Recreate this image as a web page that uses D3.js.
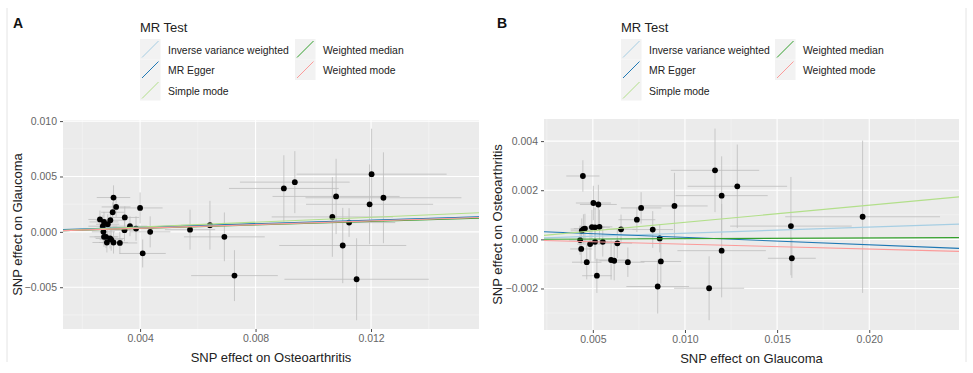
<!DOCTYPE html>
<html>
<head>
<meta charset="utf-8">
<script src="https://cdn.jsdelivr.net/npm/d3@7"></script>
<style>
  body { margin: 0; background: #fff; }
  svg { display: block; font-family: "Liberation Sans", Arial, sans-serif; }
</style>
</head>
<body>
<script>
// MR methods (legend order) and their colours
var methods = ["Inverse variance weighted", "MR Egger", "Simple mode", "Weighted median", "Weighted mode"];
var methodColors = ["#a6cee3", "#1f78b4", "#b2df8a", "#33a02c", "#fb9a99"];

// Panel A: Osteoarthritis -> Glaucoma
var aX   = [0.00308,0.00317,0.00305,0.00400,0.00347,0.00261,0.00275,0.00297,0.00288,0.00271,0.00365,0.00346,0.00386,0.00435,0.00273,0.00275,0.00282,0.00296,0.00300,0.00285,0.00308,0.00330,0.00409,0.00573,0.00642,0.00692,0.00727,0.00898,0.00936,0.01066,0.01079,0.01102,0.01124,0.01150,0.01195,0.01202,0.01243];
var aY   = [0.00310,0.00225,0.00177,0.00216,0.00130,0.00112,0.00090,0.00105,0.00069,0.00051,0.00051,0.00015,0.00030,0.00000,0.00000,-0.00045,-0.00045,-0.00060,-0.00070,-0.00096,-0.00096,-0.00100,-0.00195,0.00020,0.00060,-0.00045,-0.00395,0.00392,0.00449,0.00135,0.00320,-0.00123,0.00084,-0.00428,0.00249,0.00521,0.00308];
var aXse = [0.00058,0.0005,0.0004,0.00078,0.0005,0.0004,0.0005,0.0005,0.0004,0.0005,0.0006,0.0005,0.0006,0.0007,0.0004,0.0005,0.0004,0.0005,0.0004,0.0005,0.0005,0.0006,0.0008,0.00087,0.0010,0.0014,0.0015,0.0019,0.0019,0.0021,0.0022,0.0022,0.0016,0.0025,0.0022,0.0026,0.0027];
var aYse = [0.0011,0.0009,0.0009,0.0014,0.0010,0.0008,0.0009,0.0008,0.0009,0.0010,0.0009,0.0010,0.0011,0.0014,0.0010,0.0009,0.0010,0.0009,0.0010,0.0009,0.0010,0.0010,0.00126,0.0018,0.0022,0.0022,0.0023,0.0030,0.0028,0.0036,0.0034,0.0034,0.0013,0.0037,0.0036,0.0041,0.0041];
var aSlopes = [0.087, 0.080, 0.110, 0.078, 0.082];
var aIntercepts = [0, 0.0001, 0, 0, 0];

// Panel B: Glaucoma -> Osteoarthritis
var bX   = [0.00446,0.00503,0.00530,0.00762,0.00739,0.00943,0.00825,0.00863,0.00869,0.00852,0.01163,0.01199,0.01284,0.01199,0.01131,0.01575,0.01580,0.01964,0.00449,0.00457,0.00440,0.00495,0.00512,0.00536,0.00653,0.00431,0.00512,0.00554,0.00485,0.00633,0.00437,0.00599,0.00616,0.00690,0.00467,0.00522];
var bY   = [0.00258,0.00148,0.00142,0.00128,0.00080,0.00136,0.00040,0.00004,-0.00090,-0.00192,0.00281,0.00178,0.00216,-0.00046,-0.00199,0.00054,-0.00077,0.00092,0.00042,0.00044,0.00035,0.00050,0.00049,0.00051,0.00041,-0.00003,-0.00010,-0.00010,-0.00019,-0.00016,-0.00039,-0.00084,-0.00087,-0.00093,-0.00093,-0.00148];
var bXse = [0.0009,0.00095,0.0010,0.0011,0.0010,0.0018,0.0011,0.0012,0.0011,0.0017,0.0024,0.0025,0.0027,0.0024,0.0019,0.0033,0.0013,0.0042,0.0007,0.0006,0.0006,0.0007,0.0008,0.0007,0.0008,0.0006,0.0007,0.0006,0.0007,0.0008,0.0006,0.0009,0.0008,0.0009,0.0008,0.0008];
var bYse = [0.00064,0.0007,0.0008,0.00064,0.0005,0.00135,0.00075,0.00057,0.0009,0.0011,0.0017,0.0016,0.0017,0.0019,0.0013,0.0020,0.0008,0.0031,0.0006,0.0006,0.0005,0.0007,0.0008,0.0007,0.0006,0.0006,0.0007,0.0006,0.0007,0.0006,0.0006,0.0008,0.0008,0.0006,0.0007,0.0007];
var bSlopes = [0.025, -0.030, 0.0696, 0.0028, -0.0197];
var bIntercepts = [0, 0.00038, 0, 0, 0];

// axis ticks
var aXTicks = [0.004, 0.008, 0.012];
var aYTicks = [-0.005, 0, 0.005, 0.010];
var bXTicks = [0.005, 0.010, 0.015, 0.020];
var bYTicks = [-0.002, 0, 0.002, 0.004];

var svg = d3.select("body").append("svg").attr("width", 973).attr("height", 373);

// faint frame lines of the two source images
svg.append("line").attr("x1", 7).attr("x2", 7).attr("y1", 8).attr("y2", 362).attr("stroke", "#e4e4e4");
svg.append("line").attr("x1", 966).attr("x2", 966).attr("y1", 8).attr("y2", 362).attr("stroke", "#e4e4e4");

function drawPanel(cfg) {
    var g = svg.append("g");
    var x = d3.scaleLinear().domain(cfg.xDomain).range([cfg.left, cfg.right]);
    var y = d3.scaleLinear().domain(cfg.yDomain).range([cfg.bottom, cfg.top]);

    g.append("rect").attr("x", cfg.left).attr("y", cfg.top)
        .attr("width", cfg.right - cfg.left).attr("height", cfg.bottom - cfg.top)
        .attr("fill", "#ebebeb");

    var clipId = "clip" + cfg.label;
    g.append("clipPath").attr("id", clipId).append("rect")
        .attr("x", cfg.left).attr("y", cfg.top)
        .attr("width", cfg.right - cfg.left).attr("height", cfg.bottom - cfg.top);

    // minor grid
    g.selectAll(".minx").data(cfg.xMinor).enter().append("line")
        .attr("x1", d => x(d)).attr("x2", d => x(d)).attr("y1", cfg.top).attr("y2", cfg.bottom)
        .attr("stroke", "#f5f5f5").attr("stroke-width", 0.6);
    g.selectAll(".miny").data(cfg.yMinor).enter().append("line")
        .attr("y1", d => y(d)).attr("y2", d => y(d)).attr("x1", cfg.left).attr("x2", cfg.right)
        .attr("stroke", "#f5f5f5").attr("stroke-width", 0.6);
    // major grid
    g.selectAll(".majx").data(cfg.xTicks).enter().append("line")
        .attr("x1", d => x(d)).attr("x2", d => x(d)).attr("y1", cfg.top).attr("y2", cfg.bottom)
        .attr("stroke", "#fff").attr("stroke-width", 1.1);
    g.selectAll(".majy").data(cfg.yTicks).enter().append("line")
        .attr("y1", d => y(d)).attr("y2", d => y(d)).attr("x1", cfg.left).attr("x2", cfg.right)
        .attr("stroke", "#fff").attr("stroke-width", 1.1);

    // axes
    var xAxis = d3.axisBottom(x).tickValues(cfg.xTicks).tickFormat(d3.format(".3f")).tickSize(3).tickPadding(3);
    var yAxis = d3.axisLeft(y).tickValues(cfg.yTicks).tickFormat(d3.format(".3f")).tickSize(3).tickPadding(3);
    var gx = g.append("g").attr("transform", "translate(0," + cfg.bottom + ")").call(xAxis);
    var gy = g.append("g").attr("transform", "translate(" + cfg.left + ",0)").call(yAxis);
    [gx, gy].forEach(function (a) {
        a.select(".domain").remove();
        a.selectAll("line").attr("stroke", "#4d4d4d");
        a.selectAll("text").attr("fill", "#666").style("font-size", "10.5px")
            .style("font-family", "'Liberation Sans', Arial, sans-serif");
    });

    var plot = g.append("g").attr("clip-path", "url(#" + clipId + ")");

    // error bars
    plot.selectAll(".eh").data(cfg.xs).enter().append("line")
        .attr("x1", (d, i) => x(d - cfg.xse[i])).attr("x2", (d, i) => x(d + cfg.xse[i]))
        .attr("y1", (d, i) => y(cfg.ys[i])).attr("y2", (d, i) => y(cfg.ys[i]))
        .attr("stroke", "#bebebe").attr("stroke-width", 0.8);
    plot.selectAll(".ev").data(cfg.xs).enter().append("line")
        .attr("x1", d => x(d)).attr("x2", d => x(d))
        .attr("y1", (d, i) => y(cfg.ys[i] - cfg.yse[i])).attr("y2", (d, i) => y(cfg.ys[i] + cfg.yse[i]))
        .attr("stroke", "#bebebe").attr("stroke-width", 0.8);

    // points
    plot.selectAll(".pt").data(cfg.xs).enter().append("circle")
        .attr("cx", d => x(d)).attr("cy", (d, i) => y(cfg.ys[i]))
        .attr("r", 2.9).attr("fill", "#000");

    // MR regression lines
    var x0 = cfg.xDomain[0], x1 = cfg.xDomain[1];
    plot.selectAll(".mr").data(methods).enter().append("line")
        .attr("x1", x(x0)).attr("x2", x(x1))
        .attr("y1", (d, i) => y(cfg.intercepts[i] + cfg.slopes[i] * x0))
        .attr("y2", (d, i) => y(cfg.intercepts[i] + cfg.slopes[i] * x1))
        .attr("stroke", (d, i) => methodColors[i]).attr("stroke-width", 1.1);

    // axis titles
    g.append("text").attr("x", (cfg.left + cfg.right) / 2).attr("y", cfg.bottom + 33)
        .attr("text-anchor", "middle").attr("font-size", 13).attr("fill", "#222").text(cfg.xTitle);
    g.append("text").attr("transform", "translate(" + cfg.yTitleX + "," + (cfg.top + cfg.bottom) / 2 + ") rotate(-90)")
        .attr("text-anchor", "middle").attr("font-size", 13).attr("fill", "#222").text(cfg.yTitle);

    // panel label
    g.append("text").attr("x", cfg.labelX).attr("y", 28).attr("font-size", 14).attr("font-weight", "bold")
        .attr("fill", "#111").text(cfg.label);

    // legend
    var lg = g.append("g").attr("transform", "translate(" + cfg.legendX + ",0)");
    lg.append("text").attr("x", 0).attr("y", 32).attr("font-size", 13).attr("fill", "#222").text("MR Test");
    var items = lg.selectAll(".item").data(methods).enter().append("g")
        .attr("transform", (d, i) => "translate(" + (i < 3 ? 0 : cfg.legendCol2) + "," + (39 + (i % 3) * 20.5) + ")");
    items.append("rect").attr("width", 20.5).attr("height", 20.5).attr("fill", "#f2f2f2");
    items.append("line").attr("x1", 2).attr("y1", 18.5).attr("x2", 18.5).attr("y2", 2)
        .attr("stroke", (d, i) => methodColors[i]).attr("stroke-width", 1);
    items.append("text").attr("x", 28).attr("y", 14.5).attr("font-size", 10.4).attr("fill", "#222").text(d => d);
}

drawPanel({
    label: "A", labelX: 13, legendX: 140, legendCol2: 155,
    left: 63, right: 479, top: 120, bottom: 329,
    xDomain: [0.00133, 0.01574], yDomain: [-0.00877, 0.0101],
    xTicks: aXTicks, yTicks: aYTicks,
    xMinor: [0.002, 0.006, 0.010, 0.014], yMinor: [-0.0075, -0.0025, 0.0025, 0.0075],
    xs: aX, ys: aY, xse: aXse, yse: aYse, slopes: aSlopes, intercepts: aIntercepts,
    xTitle: "SNP effect on Osteoarthritis", yTitle: "SNP effect on Glaucoma", yTitleX: 22
});

drawPanel({
    label: "B", labelX: 497, legendX: 621, legendCol2: 154,
    left: 544, right: 959, top: 119, bottom: 330,
    xDomain: [0.00235, 0.02487], yDomain: [-0.00369, 0.0049],
    xTicks: bXTicks, yTicks: bYTicks,
    xMinor: [0.0025, 0.0075, 0.0125, 0.0175, 0.0225], yMinor: [-0.003, -0.001, 0.001, 0.003],
    xs: bX, ys: bY, xse: bXse, yse: bYse, slopes: bSlopes, intercepts: bIntercepts,
    xTitle: "SNP effect on Glaucoma", yTitle: "SNP effect on Osteoarthritis", yTitleX: 502
});
</script>
</body>
</html>
